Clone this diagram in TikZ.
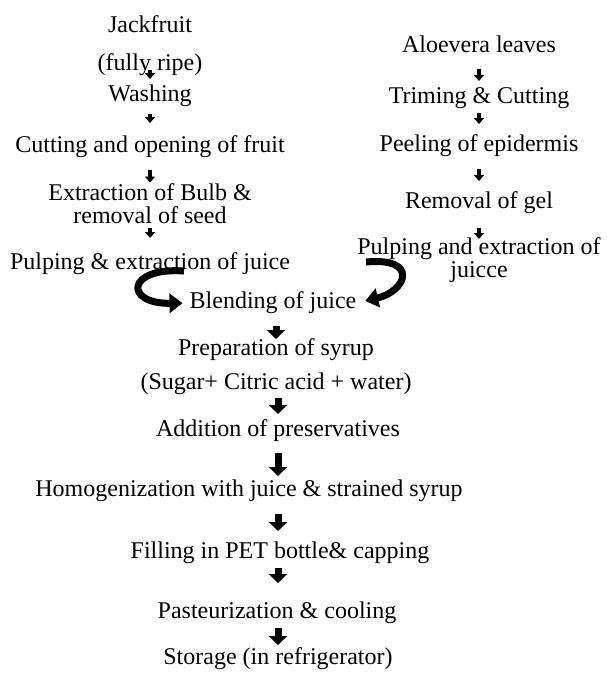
\documentclass[tikz,border=0pt]{standalone}
\usepackage{fontspec}
\setmainfont{Liberation Serif}
\usetikzlibrary{arrows.meta}

\begin{document}
\begin{tikzpicture}[x=1pt,y=-1pt,
  stage/.style={inner sep=0pt,align=center,font=\fontsize{24}{23}\selectfont},
  smallarrow/.style={line width=4pt,-{Triangle[width=10pt,length=6pt]}},
  bigarrow/.style={line width=7pt,-{Triangle[width=18pt,length=9pt]}},
  curlarrow/.style={line width=7pt,-{Triangle[width=19pt,length=13pt]}}]
  \useasboundingbox (0,0) rectangle (606,673);
  % jackfruit column
  \node[stage] (jack) at (150,46) {Jackfruit\\[15pt](fully ripe)};
  \node[stage] (wash) at (150,96) {Washing};
  \node[stage] (cut) at (150,147) {Cutting and opening of fruit};
  \node[stage] (bulb) at (150,204) {Extraction of Bulb \&\\removal of seed};
  \node[stage] (pulpL) at (150,264) {Pulping \& extraction of juice};
  % aloevera column
  \node[stage] (aloe) at (479,44) {Aloevera leaves};
  \node[stage] (trim) at (479,98) {Triming \& Cutting};
  \node[stage] (peel) at (479,146) {Peeling of epidermis};
  \node[stage] (gel) at (479,203) {Removal of gel};
  \node[stage] (pulpR) at (479,260) {Pulping and extraction of\\juicce};
  % common line
  \node[stage] (blend) at (273,303) {Blending of juice};
  \node[stage] (syrup) at (276,367) {Preparation of syrup\\[11pt](Sugar+ Citric acid + water)};
  \node[stage] (pres) at (278,431) {Addition of preservatives};
  \node[stage] (homo) at (249,491) {Homogenization with juice \& strained syrup};
  \node[stage] (fill) at (280,553) {Filling in PET bottle\& capping};
  \node[stage] (past) at (277,613) {Pasteurization \& cooling};
  \node[stage] (store) at (278,659) {Storage (in refrigerator)};

  \draw[smallarrow,shorten <=24pt,shorten >=17pt] (jack.center) -- (wash.center);
  \draw[smallarrow,shorten <=18pt,shorten >=24pt] (wash.center) -- (cut.center);
  \draw[smallarrow,shorten <=23pt,shorten >=21.5pt] (cut.center) -- (bulb.center);
  \draw[smallarrow,shorten <=23.5pt,shorten >=26pt] (bulb.center) -- (pulpL.center);
  \draw[smallarrow,shorten <=25pt,shorten >=17pt] (aloe.center) -- (trim.center);
  \draw[smallarrow,shorten <=15pt,shorten >=22pt] (trim.center) -- (peel.center);
  \draw[smallarrow,shorten <=23pt,shorten >=22pt] (peel.center) -- (gel.center);
  \draw[smallarrow,shorten <=25pt,shorten >=21pt] (gel.center) -- (pulpR.center);

  % the two juices meet
  \coordinate (lstart) at (184,271);
  \coordinate (rstart) at (366,262);
  \draw[curlarrow,shorten >=7pt] (lstart) .. controls (126,267) and (124,304) .. (blend.west);
  \draw[curlarrow,shorten >=9pt] (rstart) .. controls (419,257) and (407,291) .. (blend.east);

  \draw[bigarrow,shorten <=23pt,shorten >=28pt] (blend.center -| syrup.center) -- (syrup.center);
  \draw[bigarrow,shorten <=31pt,shorten >=17pt] (syrup.center -| pres.center) -- (pres.center);
  \draw[bigarrow,shorten <=22pt,shorten >=15pt] (pres.center) -- (pres.center |- homo.center);
  \draw[bigarrow,shorten <=23pt,shorten >=22pt] (homo.center -| store.center) -- (fill.center -| store.center);
  \draw[bigarrow,shorten <=15pt,shorten >=30pt] (fill.center -| store.center) -- (past.center -| store.center);
  \draw[bigarrow,shorten <=15pt,shorten >=14pt] (past.center -| store.center) -- (store.center);
\end{tikzpicture}
\end{document}
